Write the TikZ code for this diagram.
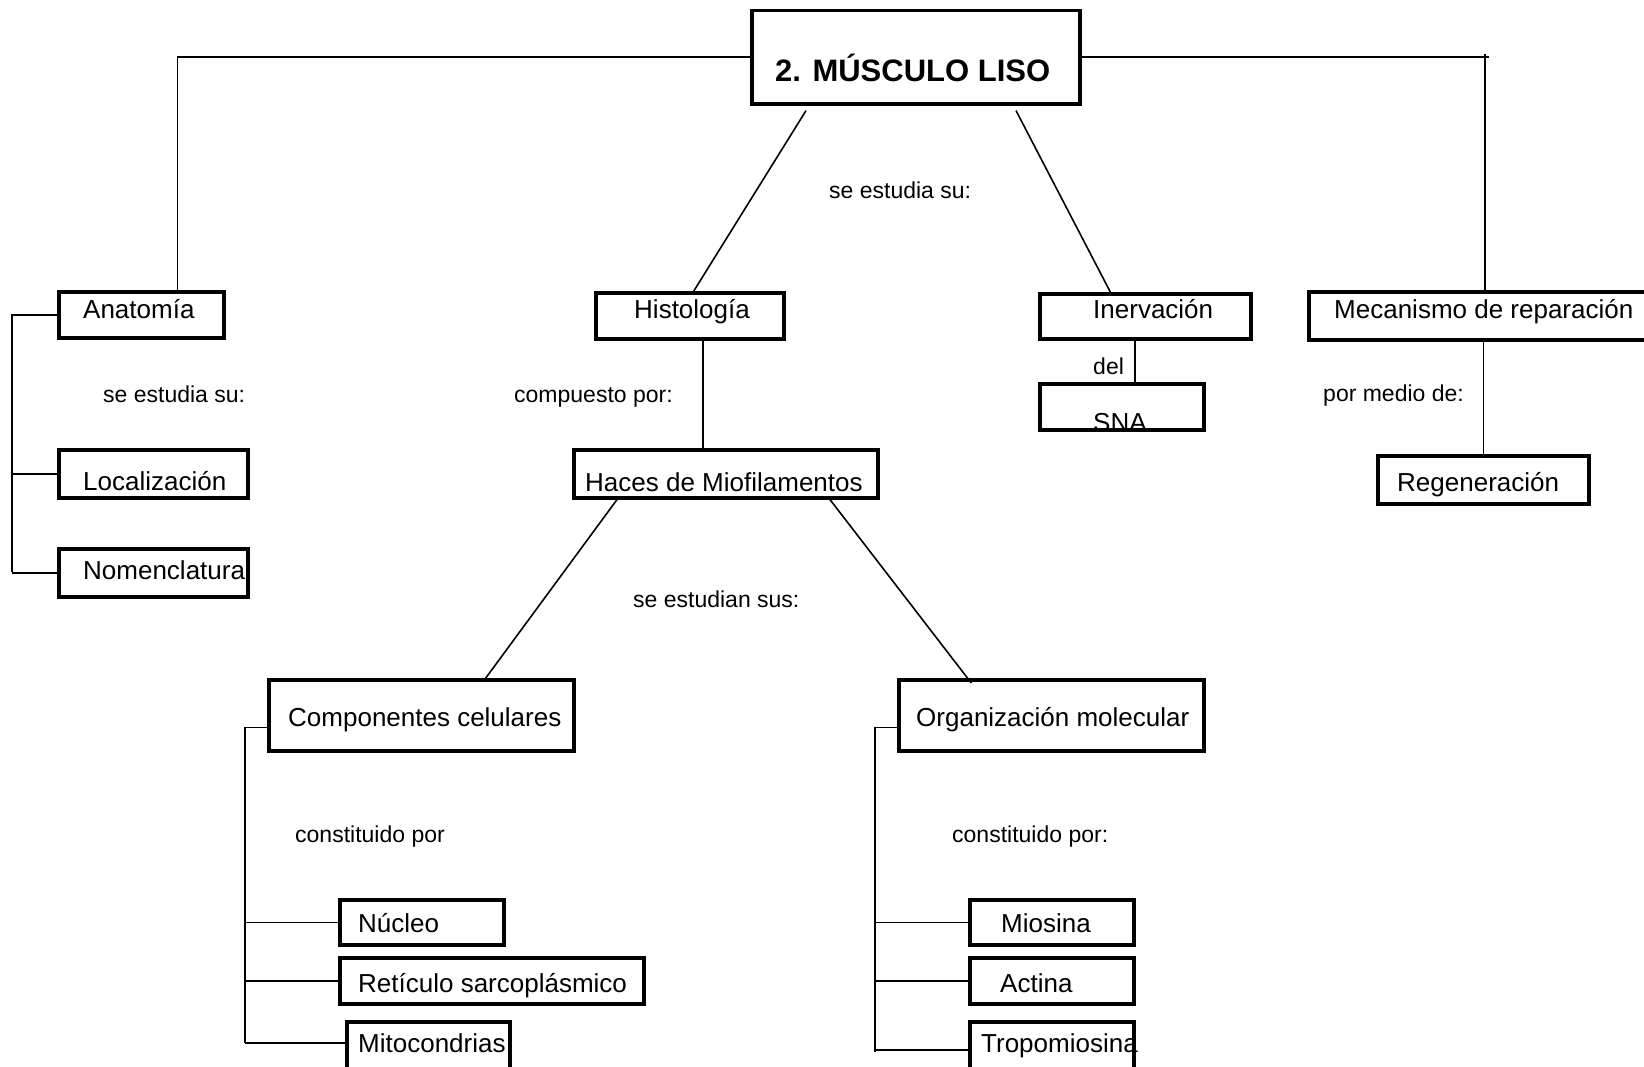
\documentclass[tikz,border=0pt]{standalone}
\usepackage{fontspec}
\setmainfont{Liberation Sans}
\usetikzlibrary{calc}

\tikzset{
  box/.style={draw, line width=3.6pt, inner sep=0pt, anchor=north west},
  conn/.style={draw, line width=1.6pt},
  boxtext/.style={inner sep=0pt, anchor=base west, font=\fontsize{26}{30}\selectfont},
  linktext/.style={inner sep=0pt, anchor=base west, font=\fontsize{23}{27}\selectfont},
  titletext/.style={inner sep=0pt, anchor=base west, font=\fontsize{31}{36}\selectfont\bfseries}
}

% \conbox{name}{x1}{y1}{x2}{y2}: framed box from top-left to bottom-right
\newcommand\conbox[5]{%
  \node[box, minimum width={(#4-#2)*1pt}, minimum height={(#5-#3)*1pt}] (#1) at (#2,#3) {};}

\begin{document}
\begin{tikzpicture}[x=1pt,y=-1pt]
\useasboundingbox (0,0) rectangle (1644,1066);
\fill[white] (0,0) rectangle (1644,1066);
\clip (0,0) rectangle (1644,1066);

% ---------- boxes ----------
\conbox{title}{750}{8.5}{1078}{102}
\conbox{anat}{57}{290}{222}{336}
\conbox{histo}{594}{291}{782}{337}
\conbox{inerv}{1038}{292}{1249}{337}
\conbox{mec}{1307}{290}{1652}{338}
\conbox{loc}{57}{448}{246}{496}
\conbox{nom}{57}{547}{246}{595}
\conbox{haces}{572}{448}{876}{496}
\conbox{sna}{1038}{382}{1202}{428}
\conbox{regen}{1376}{454}{1587}{502}
\conbox{comp}{267}{678}{572}{749}
\conbox{org}{897}{678}{1202}{749}
\conbox{nuc}{338}{898}{502}{943}
\conbox{ret}{338}{956}{642}{1002}
\conbox{mito}{345}{1020}{508}{1075}
\conbox{mio}{968}{898}{1132}{943}
\conbox{act}{968}{956}{1132}{1002}
\conbox{tropo}{968}{1020}{1132}{1075}

% ---------- connectors ----------
% title to the four branches
\draw[conn] (title.west) -| ($(anat.north)+(36,0)$);
\coordinate (rc) at ($(mec.north |- title.east)+(3.5,0)$);
\draw[conn] (title.east) -- ($(rc)+(4,0)$);
\draw[conn] ($(rc)+(0,-3)$) -- ($(mec.north)+(3.5,0)$);
\draw[conn] ($(title.south west)+(56,5)$) -- ($(histo.north)+(4,0)$);
\draw[conn] ($(title.south west)+(266,5)$) -- ($(inerv.north)+(-35,0)$);

% Anatomía bracket
\coordinate (abot) at (12,572);
\draw[conn] (anat.west) -| (abot);
\draw[conn] (abot |- loc.west) -- (loc.west);
\draw[conn] (abot |- nom.west) -- (nom.west);

% Histología to Haces de Miofilamentos
\draw[conn] ($(histo.south)+(13,0)$) coordinate (hv) -- (hv |- haces.north);
\draw[conn] ($(haces.south west)+(45,0)$) -- ($(comp.north)+(63,2)$);
\draw[conn] ($(haces.south west)+(258,0)$) -- ($(org.north)+(-80,5)$);

% Inervación to SNA
\draw[conn] ($(inerv.south)+(-10.5,0)$) coordinate (iv) -- ($(iv |- sna.north)+(0,2)$);

% Mecanismo to Regeneración
\draw[conn] (mec.south -| regen.north) -- ($(regen.north)+(0,4)$);

% Componentes celulares bracket
\coordinate (cbot) at (245,1043);
\draw[conn] ($(comp.west)+(0,12)$) -| (cbot);
\draw[conn] (cbot |- nuc.west) -- (nuc.west);
\draw[conn] (cbot |- ret.west) -- (ret.west);
\draw[conn] (cbot) -- (cbot -| mito.west);

% Organización molecular bracket
\coordinate (obot) at (875,1052);
\draw[conn] ($(org.west)+(0,12)$) -| (obot);
\draw[conn] (obot |- mio.west) -- (mio.west);
\draw[conn] (obot |- act.west) -- (act.west);
\draw[conn] ($(obot)+(0,-2)$) -- ($(obot -| tropo.west)+(0,-2)$);

% ---------- texts ----------
\node[titletext] (title-t) at (775,81) {2. MÚSCULO LISO};
\node[boxtext] (anat-t) at (83,318) {Anatomía};
\node[boxtext] (histo-t) at (634,318) {Histología};
\node[boxtext] (inerv-t) at (1093,318) {Inervación};
\node[boxtext] (mec-t) at (1334,318) {Mecanismo de reparación};
\node[boxtext] (loc-t) at (83,490) {Localización};
\node[boxtext] (nom-t) at (83,579) {Nomenclatura};
\node[boxtext] (haces-t) at (585,491) {Haces de Miofilamentos};
\node[boxtext] (regen-t) at (1397,491) {Regeneración};
\node[boxtext] (comp-t) at (288,726) {Componentes celulares};
\node[boxtext] (org-t) at (916,726) {Organización molecular};
\node[boxtext] (nuc-t) at (358,932) {Núcleo};
\node[boxtext] (ret-t) at (358,992) {Retículo sarcoplásmico};
\node[boxtext] (mito-t) at (358,1052) {Mitocondrias};
\node[boxtext] (mio-t) at (1001,932) {Miosina};
\node[boxtext] (act-t) at (1000,992) {Actina};
\node[boxtext] (tropo-t) at (981,1052) {Tropomiosina};
\begin{scope}
  \clip (sna.north west) rectangle ($(sna.south east)+(0,-2)$);
  \node[boxtext] (sna-t) at (1093,431) {SNA};
\end{scope}

\node[linktext] (l-top) at (829,198) {se estudia su:};
\node[linktext] (l-anat) at (103,402) {se estudia su:};
\node[linktext] (l-histo) at (514,402) {compuesto por:};
\node[linktext] (l-del) at (1093,374) {del};
\node[linktext] (l-mec) at (1323,401) {por medio de:};
\node[linktext] (l-haces) at (633,607) {se estudian sus:};
\node[linktext] (l-comp) at (295,842) {constituido por};
\node[linktext] (l-org) at (952,842) {constituido por:};
\end{tikzpicture}
\end{document}
